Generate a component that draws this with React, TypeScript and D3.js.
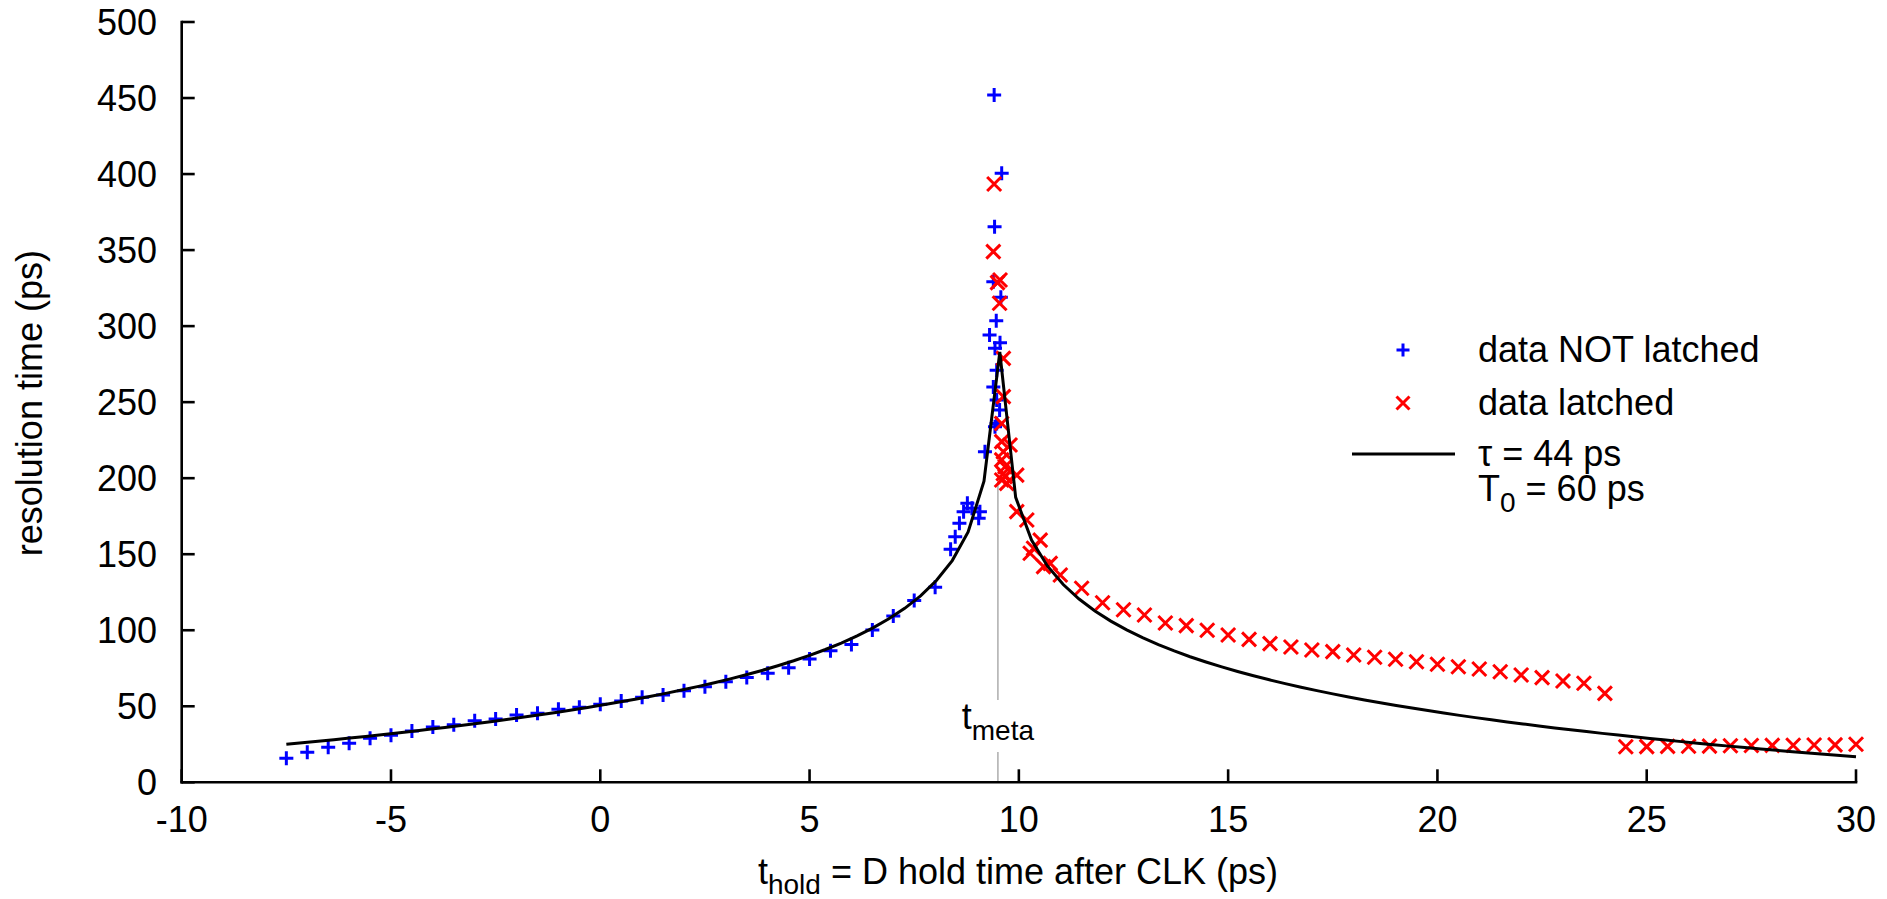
import React from "react";
import * as d3 from "d3";

const W = 1887;
const H = 899;

const xTicks = [-10, -5, 0, 5, 10, 15, 20, 25, 30];
const yTicks = [0, 50, 100, 150, 200, 250, 300, 350, 400, 450, 500];

// data NOT latched (blue +)
const notLatched: [number, number][] = [
  [-7.5, 15.8], [-7, 19.7], [-6.5, 23.0], [-6, 25.6], [-5.5, 28.9], [-5, 30.9],
  [-4.5, 33.7], [-4, 36.4], [-3.5, 37.9], [-3, 40.5], [-2.5, 41.6], [-2, 44.3],
  [-1.5, 45.4], [-1, 48.0], [-0.5, 49.3], [0, 51.3], [0.5, 53.5], [1, 55.9],
  [1.5, 57.4], [2, 60.2], [2.5, 62.9], [3, 66.2], [3.5, 69.0], [4, 71.7],
  [4.5, 75.4], [5, 81.1], [5.5, 86.5], [6, 90.7], [6.5, 100.2], [7, 109.4],
  [7.5, 119.5], [8, 128.2], [8.37, 153.2], [8.48, 161.5], [8.58, 170.3],
  [8.68, 178], [8.77, 183.5], [8.88, 180.2], [9.04, 173.6], [9.07, 178],
  [9.19, 217.4], [9.43, 233.9], [9.47, 236], [9.54, 244.8], [9.47, 251.4],
  [9.39, 260], [9.47, 271], [9.43, 285.4], [9.55, 289], [9.30, 294.2],
  [9.46, 303.5], [9.57, 319], [9.39, 329.2], [9.42, 365.4], [9.59, 400.5],
  [9.41, 452],
];

// data latched (red x)
const latched: [number, number][] = [
  [9.41, 393.5], [9.39, 349], [9.55, 330.3], [9.49, 328.6], [9.54, 315],
  [9.63, 278.8], [9.63, 253.6], [9.59, 236], [9.59, 224], [9.79, 221.8],
  [9.63, 217.4], [9.59, 212], [9.67, 207.5], [9.63, 203], [9.95, 202],
  [9.59, 198.8], [9.71, 196.6], [9.67, 201], [9.95, 178], [10.19, 172.5],
  [10.51, 159.3], [10.35, 153.9], [10.27, 150.6], [10.59, 141.8], [10.75, 144],
  [10.99, 136.3], [11.5, 127.6], [12, 118.1], [12.5, 113.5], [13, 110],
  [13.5, 104.8], [14, 103], [14.5, 100], [15, 96.9], [15.5, 94], [16, 91.2],
  [16.5, 89], [17, 87], [17.5, 85.9], [18, 83.7], [18.5, 82.2], [19, 80.9],
  [19.5, 79.3], [20, 77.6], [20.5, 76], [21, 74.5], [21.5, 72.7], [22, 70.6],
  [22.5, 68.8], [23, 66.6], [23.5, 65.1], [24, 58.5], [24.5, 23.4], [25, 23.5],
  [25.5, 23.6], [26, 23.7], [26.5, 23.8], [27, 24], [27.5, 24.2], [28, 24.3],
  [28.5, 24.4], [29, 24.5], [29.5, 24.6], [30, 25],
];

// fitted curve tau = 44 ps, T0 = 60 ps
const fitX = [
  -7.5, -7.121, -6.742, -6.364, -5.985, -5.606, -5.227, -4.848, -4.47, -4.091,
  -3.712, -3.333, -2.955, -2.576, -2.197, -1.818, -1.439, -1.061, -0.682, -0.303,
  0.076, 0.455, 0.833, 1.212, 1.591, 1.97, 2.348, 2.727, 3.106, 3.485,
  3.864, 4.242, 4.621, 5.0, 5.379, 5.758, 6.136, 6.515, 6.894, 7.273,
  7.652, 8.03, 8.409, 8.788, 9.167, 9.545, 9.924, 10.303, 10.682, 11.061,
  11.439, 11.818, 12.197, 12.576, 12.955, 13.333, 13.712, 14.091, 14.47, 14.848,
  15.227, 15.606, 15.985, 16.364, 16.742, 17.121, 17.5, 17.879, 18.258, 18.636,
  19.015, 19.394, 19.773, 20.152, 20.53, 20.909, 21.288, 21.667, 22.045, 22.424,
  22.803, 23.182, 23.561, 23.939, 24.318, 24.697, 25.076, 25.455, 25.833, 26.212,
  26.591, 26.97, 27.348, 27.727, 28.106, 28.485, 28.864, 29.242, 29.621, 30.0,
];
const fitY = [
  24.99, 25.98, 27.0, 28.04, 29.1, 30.19, 31.31, 32.45, 33.63, 34.84,
  36.08, 37.36, 38.68, 40.04, 41.44, 42.89, 44.39, 45.94, 47.55, 49.22,
  50.95, 52.75, 54.64, 56.6, 58.66, 60.82, 63.09, 65.49, 68.02, 70.71,
  73.57, 76.63, 79.92, 83.47, 87.34, 91.58, 96.28, 101.54, 107.51, 114.42,
  122.62, 132.71, 145.82, 164.59, 197.99, 283.0, 187.38, 159.31, 142.3, 130.07,
  120.51, 112.66, 106.0, 100.22, 95.11, 90.53, 86.38, 82.59, 79.1, 75.87,
  72.86, 70.04, 67.4, 64.9, 62.53, 60.29, 58.16, 56.12, 54.18, 52.31,
  50.53, 48.81, 47.16, 45.56, 44.02, 42.54, 41.1, 39.71, 38.36, 37.05,
  35.78, 34.55, 33.34, 32.18, 31.04, 29.93, 28.84, 27.78, 26.75, 25.74,
  24.76, 23.79, 22.85, 21.92, 21.02, 20.13, 19.26, 18.41, 17.58, 16.76,
];

const tMeta = 9.5;
const tMetaTop = 197;

const FONT = "'Liberation Sans', Arial, Helvetica, sans-serif";
const BLUE = "#0000ff";
const RED = "#ff0000";

export default function App() {
  const x = d3.scaleLinear().domain([-10, 30]).range([181.7, 1856]);
  const y = d3.scaleLinear().domain([0, 500]).range([782.3, 22]);
  const x0 = x(-10);
  const y0 = y(0);

  const fitPts: [number, number][] = fitX.map((v, i) => [v, fitY[i]]);
  const line = d3
    .line<[number, number]>()
    .x((d) => x(d[0]))
    .y((d) => y(d[1]))
    .curve(d3.curveLinear);

  const plus = (cx: number, cy: number, r = 7) =>
    `M${cx - r},${cy}H${cx + r}M${cx},${cy - r}V${cy + r}`;
  const cross = (cx: number, cy: number, r = 7) =>
    `M${cx - r},${cy - r}L${cx + r},${cy + r}M${cx - r},${cy + r}L${cx + r},${cy - r}`;

  const tmx = x(tMeta);

  return (
    <svg
      width={W}
      height={H}
      style={{ position: "absolute", left: 0, top: 0, display: "block", background: "#fff" }}
      fontFamily={FONT}
    >
      <rect x={0} y={0} width={W} height={H} fill="#fff" />

      {/* t_meta marker line */}
      <line x1={tmx} x2={tmx} y1={y(tMetaTop)} y2={700} stroke="#a0a0a0" strokeWidth={1.3} />
      <line x1={tmx} x2={tmx} y1={752} y2={y0} stroke="#a0a0a0" strokeWidth={1.3} />
      <text x={tmx} y={729} textAnchor="middle" fontSize={36} fill="#000" style={{ whiteSpace: "pre" }}>
        <tspan>t</tspan>
        <tspan fontSize={28} dy={11}>meta</tspan>
      </text>

      {/* axes */}
      <g stroke="#000" strokeWidth={2.6} fill="none">
        <line x1={x0} x2={x(30)} y1={y0} y2={y0} strokeLinecap="square" />
        <line x1={x0} x2={x0} y1={y0} y2={y(500)} strokeLinecap="square" />
        {yTicks.map((t) => (
          <line key={"yt" + t} x1={x0} x2={x0 + 13} y1={y(t)} y2={y(t)} />
        ))}
        {xTicks.map((t) => (
          <line key={"xt" + t} x1={x(t)} x2={x(t)} y1={y0} y2={y0 - 13} />
        ))}
      </g>
      <g fontSize={36} fill="#000">
        {yTicks.map((t) => (
          <text key={"yl" + t} x={157} y={y(t) + 13} textAnchor="end">
            {t}
          </text>
        ))}
        {xTicks.map((t) => (
          <text key={"xl" + t} x={x(t)} y={832} textAnchor="middle">
            {t}
          </text>
        ))}
      </g>

      {/* axis titles */}
      <text
        transform={`translate(42,${(y(0) + y(500)) / 2 + 1}) rotate(-90)`}
        textAnchor="middle"
        fontSize={36}
        fill="#000"
      >
        resolution time (ps)
      </text>
      <text x={1018} y={884} textAnchor="middle" fontSize={36} fill="#000" style={{ whiteSpace: "pre" }}>
        <tspan>t</tspan>
        <tspan fontSize={28} dy={10}>hold</tspan>
        <tspan fontSize={36} dy={-10}>{" = D hold time after CLK (ps)"}</tspan>
      </text>

      {/* data points */}
      <g stroke={BLUE} strokeWidth={3} fill="none">
        {notLatched.map((d, i) => (
          <path key={"b" + i} d={plus(x(d[0]), y(d[1]))} />
        ))}
      </g>
      <g stroke={RED} strokeWidth={3} fill="none">
        {latched.map((d, i) => (
          <path key={"r" + i} d={cross(x(d[0]), y(d[1]))} />
        ))}
      </g>

      {/* fit */}
      <path d={line(fitPts) || ""} stroke="#000" strokeWidth={3} fill="none" strokeLinejoin="miter" />

      {/* legend */}
      <g fontSize={36} fill="#000">
        <path d={plus(1403, 350, 6.5)} stroke={BLUE} strokeWidth={3} fill="none" />
        <text x={1478} y={362}>data NOT latched</text>
        <path d={cross(1403, 403, 6.5)} stroke={RED} strokeWidth={3} fill="none" />
        <text x={1478} y={415}>data latched</text>
        <line x1={1352} x2={1455} y1={454} y2={454} stroke="#000" strokeWidth={3} />
        <text x={1478} y={466}>τ = 44 ps</text>
        <text x={1478} y={501} style={{ whiteSpace: "pre" }}>
          <tspan>T</tspan>
          <tspan fontSize={28} dy={11}>0</tspan>
          <tspan fontSize={36} dy={-11}>{" = 60 ps"}</tspan>
        </text>
      </g>
    </svg>
  );
}
